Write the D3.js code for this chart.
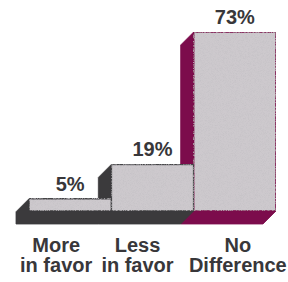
<!DOCTYPE html>
<html><head><meta charset="utf-8">
<script src="https://cdn.jsdelivr.net/npm/d3@7"></script>
<style>html,body{margin:0;padding:0;background:#fff;}svg{display:block;}</style>
</head><body>
<svg id="c" width="288" height="282"></svg>
<script>
const categories = [["More","in favor"],["Less","in favor"],["No","Difference"]];
const catKeys = ["More in favor","Less in favor","No Difference"];
const values = [5, 19, 73];
const valueLabels = ["5%","19%","73%"];

const W = 288, H = 282;
const svg = d3.select("#c");
const x = d3.scaleBand().domain(catKeys).range([29, 276]).padding(0);
const y = d3.scaleLinear().domain([0, 73]).range([211, 32]);
const dx = -13, dy = 13;
const sideColor = ["#3b3a3c","#3b3a3c","#7c0c4c"];
const edgeColor = ["#454446","#454446","#7c0c4c"];

const defs = svg.append("defs");
const f = defs.append("filter").attr("id","stip").attr("x",0).attr("y",0).attr("width",1).attr("height",1);
f.append("feTurbulence").attr("type","fractalNoise").attr("baseFrequency",1.4).attr("numOctaves",1).attr("seed",3).attr("result","n");
f.append("feColorMatrix").attr("in","n").attr("type","matrix")
  .attr("values","0 0 0 0 0.55  0 0 0 0 0.53  0 0 0 0 0.56  0 0 0 -2.2 1.25").attr("result","a");
f.append("feComposite").attr("in","a").attr("in2","SourceGraphic").attr("operator","in").attr("result","b");
f.append("feMerge").selectAll("n").data(["SourceGraphic","b"]).join("feMergeNode").attr("in",d=>d);

const order = d3.range(values.length).reverse();
const g = svg.append("g");
order.forEach(i => {
  const x0 = x(catKeys[i]), x1 = x0 + x.bandwidth();
  const top = y(values[i]), base = y(0);
  const pts = [[x0, top],[x0+dx, top+dy],[x0+dx, base+dy],[x1+dx, base+dy],[x1, base],[x0, base]];
  g.append("polygon").attr("points", pts.map(p=>p.join(",")).join(" "))
    .attr("fill", sideColor[i]).attr("stroke", sideColor[i]).attr("stroke-width",0.8);
  g.append("rect").attr("x", x0).attr("y", top).attr("width", x1-x0).attr("height", base-top)
    .attr("fill", "#cdc9cd").attr("filter","url(#stip)")
    .attr("stroke", edgeColor[i]).attr("stroke-width", 1.6);
});

svg.append("g").selectAll("text").data(values).join("text")
  .attr("x", (d,i) => x(catKeys[i]) + x.bandwidth()/2)
  .attr("y", d => y(d) - 8)
  .attr("text-anchor","middle")
  .attr("font-family","'Liberation Sans', Arial, sans-serif")
  .attr("font-weight","bold").attr("font-size",20).attr("fill","#38373a")
  .text((d,i) => valueLabels[i]);

const catDx = [-14, -15, 3];
const cl = svg.append("g").selectAll("text").data(categories).join("text")
  .attr("text-anchor","middle")
  .attr("font-family","'Liberation Sans', Arial, sans-serif")
  .attr("font-weight","bold").attr("font-size",20).attr("fill","#38373a");
cl.selectAll("tspan").data((d,i) => d.map(t => ({t, i}))).join("tspan")
  .attr("x", d => x(catKeys[d.i]) + x.bandwidth()/2 + catDx[d.i])
  .attr("y", (d,j) => 252 + j*20)
  .text(d => d.t);
</script>
</body></html>
